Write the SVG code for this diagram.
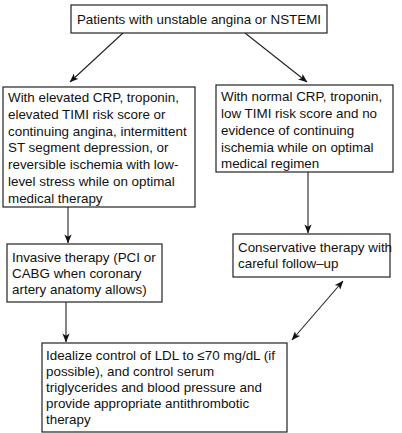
<svg xmlns="http://www.w3.org/2000/svg" width="402" height="433" viewBox="0 0 402 433">
<style>
.box{fill:#fff;stroke:#222;stroke-width:1.2}
.t{font-family:"Liberation Sans",Arial,sans-serif;font-size:13.4px;fill:#111}
.c{fill:none;stroke:#222;stroke-width:1.1}
</style>
<defs>
<marker id="ah" viewBox="0 0 10 8" refX="9.5" refY="4" markerWidth="9" markerHeight="7.2" markerUnits="userSpaceOnUse" orient="auto-start-reverse">
<path d="M0,0 L10,4 L0,8 L2.5,4 z" fill="#111"/>
</marker>
</defs>
<rect width="402" height="433" fill="#fff"/>
<g id="connectors">
<line class="c" x1="123" y1="33" x2="70" y2="82" marker-end="url(#ah)"/>
<line class="c" x1="245" y1="33" x2="307" y2="82" marker-end="url(#ah)"/>
<line class="c" x1="68" y1="207" x2="68" y2="243" marker-end="url(#ah)"/>
<line class="c" x1="308" y1="172" x2="308" y2="233" marker-end="url(#ah)"/>
<line class="c" x1="66" y1="302" x2="66" y2="342" marker-end="url(#ah)"/>
<line class="c" x1="292" y1="340" x2="343" y2="281" marker-start="url(#ah)" marker-end="url(#ah)"/>
</g>
<g id="n1">
<rect class="box" x="71" y="5" width="256" height="28"/>
<text class="t" x="199" y="24" text-anchor="middle">Patients with unstable angina or NSTEMI</text>
</g>
<g id="n2">
<rect class="box" x="3" y="87" width="192" height="120"/>
<text class="t" x="8"><tspan x="8" y="102">With elevated CRP, troponin,</tspan><tspan x="8" y="118.8">elevated TIMI risk score or</tspan><tspan x="8" y="135.6">continuing angina, intermittent</tspan><tspan x="8" y="152.4">ST segment depression, or</tspan><tspan x="8" y="169.2">reversible ischemia with low-</tspan><tspan x="8" y="186">level stress while on optimal</tspan><tspan x="8" y="202.8">medical therapy</tspan></text>
</g>
<g id="n3">
<rect class="box" x="216" y="85" width="177" height="87"/>
<text class="t"><tspan x="221" y="101">With normal CRP, troponin,</tspan><tspan x="221" y="118">low TIMI risk score and no</tspan><tspan x="221" y="135">evidence of continuing</tspan><tspan x="221" y="152">ischemia while on optimal</tspan><tspan x="221" y="168">medical regimen</tspan></text>
</g>
<g id="n4">
<rect class="box" x="7" y="244" width="155" height="58"/>
<text class="t"><tspan x="12" y="261.5">Invasive therapy (PCI or</tspan><tspan x="12" y="277.5">CABG when coronary</tspan><tspan x="12" y="293.5">artery anatomy allows)</tspan></text>
</g>
<g id="n5">
<rect class="box" x="233" y="234" width="157" height="43"/>
<text class="t"><tspan x="238" y="251.5">Conservative therapy with</tspan><tspan x="238" y="267.5">careful follow–up</tspan></text>
</g>
<g id="n6">
<rect class="box" x="42" y="343" width="245" height="89"/>
<text class="t"><tspan x="46" y="360">Idealize control of LDL to ≤70 mg/dL (if</tspan><tspan x="46" y="376">possible), and control serum</tspan><tspan x="46" y="392">triglycerides and blood pressure and</tspan><tspan x="46" y="407.5">provide appropriate antithrombotic</tspan><tspan x="46" y="423.5">therapy</tspan></text>
</g>
</svg>
